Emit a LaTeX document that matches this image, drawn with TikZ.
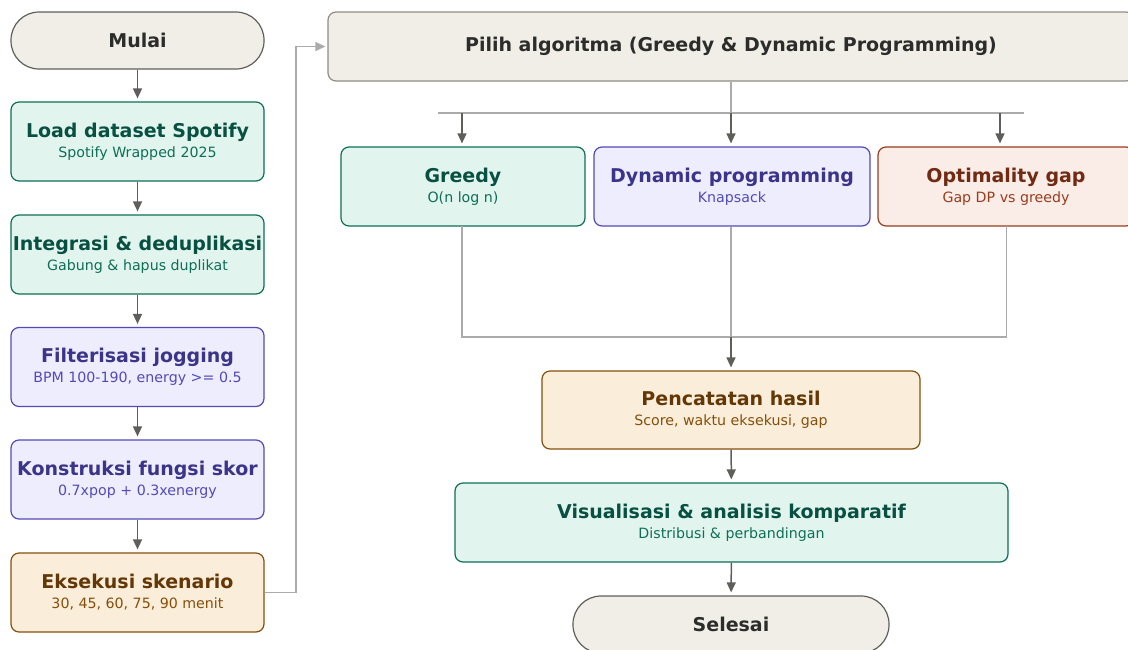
\documentclass[tikz,border=0pt]{standalone}
\usepackage{fontspec}
\setmainfont{DejaVu Sans}
\usetikzlibrary{arrows.meta}
\definecolor{nfill}{HTML}{F1EEE7}
\definecolor{ndraw}{HTML}{5F5E5A}
\definecolor{ndraw2}{HTML}{8F8D86}
\definecolor{ntext}{HTML}{2C2C2A}
\definecolor{gfill}{HTML}{E1F5EE}
\definecolor{gdraw}{HTML}{0F6E56}
\definecolor{gtext}{HTML}{085041}
\definecolor{pfill}{HTML}{EEEDFE}
\definecolor{pdraw}{HTML}{534AB7}
\definecolor{ptext}{HTML}{3C3489}
\definecolor{afill}{HTML}{FAEEDA}
\definecolor{adraw}{HTML}{854F0B}
\definecolor{atext}{HTML}{633806}
\definecolor{cfill}{HTML}{FAECE7}
\definecolor{cdraw}{HTML}{993C1D}
\definecolor{ctext}{HTML}{712B13}
\definecolor{arr}{HTML}{5F5E5A}
\definecolor{lgray}{HTML}{ABABAB}
\newcommand\twoline[3]{{\bfseries\fontsize{19}{20}\selectfont #1}\\{\color{#2}\fontsize{14.2}{20}\selectfont #3}}
\tikzset{
  box/.style={draw, rounded corners=8pt, line width=1.2pt, align=center, inner sep=0pt,
    font=\fontsize{14.2}{20}\selectfont},
  green/.style={box, fill=gfill, draw=gdraw, text=gtext},
  purple/.style={box, fill=pfill, draw=pdraw, text=ptext},
  amber/.style={box, fill=afill, draw=adraw, text=atext},
  coral/.style={box, fill=cfill, draw=cdraw, text=ctext},
  neutral/.style={box, fill=nfill, draw=ndraw, text=ntext, font=\bfseries\fontsize{19}{20}\selectfont},
  term/.style={neutral, rounded corners=28pt},
  flow/.style={draw=arr, line width=1.5pt, -{Triangle[length=10pt,width=9pt]}, shorten >=3pt},
  link/.style={draw=lgray, line width=1.5pt},
  linkarr/.style={link, -{Triangle[length=10pt,width=9pt]}, shorten >=2pt}
}
\begin{document}
\begin{tikzpicture}[x=1pt,y=-1pt]
\useasboundingbox (0,0) rectangle (1128,649);
% left column
\node[term, minimum width=253pt, minimum height=57pt] (mulai) at (137.5,40.5) {Mulai};
\node[green, minimum width=253pt, minimum height=79pt] (load) at (137.5,141.5) {\twoline{Load dataset Spotify}{gdraw}{Spotify Wrapped 2025}};
\node[green, minimum width=253pt, minimum height=79pt] (integ) at (137.5,254.5) {\twoline{Integrasi \& deduplikasi}{gdraw}{Gabung \& hapus duplikat}};
\node[purple, minimum width=253pt, minimum height=79pt] (filt) at (137.5,367) {\twoline{Filterisasi jogging}{pdraw}{BPM 100-190, energy >= 0.5}};
\node[purple, minimum width=253pt, minimum height=79pt] (kons) at (137.5,479.5) {\twoline{Konstruksi fungsi skor}{pdraw}{0.7xpop + 0.3xenergy}};
\node[amber, minimum width=253pt, minimum height=79pt] (eks) at (137.5,592.5) {\twoline{Eksekusi skenario}{adraw}{30, 45, 60, 75, 90 menit}};
% right part
\node[neutral, draw=ndraw2, minimum width=806pt, minimum height=69pt] (pilih) at (731,46.5) {Pilih algoritma (Greedy \& Dynamic Programming)};
\node[green, minimum width=244pt, minimum height=79pt] (greedy) at (463,186.5) {\twoline{Greedy}{gdraw}{O(n log n)}};
\node[purple, minimum width=276pt, minimum height=79pt] (dp) at (732,186.5) {\twoline{Dynamic programming}{pdraw}{Knapsack}};
\node[coral, minimum width=256pt, minimum height=79pt] (opt) at (1006,186.5) {\twoline{Optimality gap}{cdraw}{Gap DP vs greedy}};
\node[amber, minimum width=378pt, minimum height=78pt] (penc) at (731,410) {\twoline{Pencatatan hasil}{adraw}{Score, waktu eksekusi, gap}};
\node[green, minimum width=553pt, minimum height=79pt] (vis) at (731.5,522.5) {\twoline{Visualisasi \& analisis komparatif}{gdraw}{Distribusi \& perbandingan}};
\node[term, minimum width=316pt, minimum height=57pt] (selesai) at (731,624.5) {Selesai};
% left arrows
\draw[flow] (mulai) -- (load);
\draw[flow] (load) -- (integ);
\draw[flow] (integ) -- (filt);
\draw[flow] (filt) -- (kons);
\draw[flow] (kons) -- (eks);
% loop to pilih
\coordinate (r1) at (296,46.5);
\draw[linkarr] (eks.east) -| (r1) -- (pilih.west);
% split
\coordinate (hl) at (438,113);
\coordinate (hr) at (1024,113);
\coordinate (hm) at (731,113);
\coordinate (t1) at (462,113);
\coordinate (t3) at (1000,113);
\draw[link] (pilih.south -| hm) -- (hm);
\draw[link] (hl) -- (hr);
\draw[flow] (t1) -- (t1 |- greedy.north);
\draw[flow] (hm) -- (hm |- dp.north);
\draw[flow] (t3) -- (t3 |- opt.north);
% merge
\coordinate (m) at (731,337);
\coordinate (b1) at (462,226);
\coordinate (b3) at (1006.5,226);
\draw[link] (b1) |- (m) -| (b3);
\draw[link] (hm |- dp.south) -- (m);
\draw[flow] (m) -- (m |- penc.north);
\draw[flow] (penc) -- (vis);
\draw[flow] (vis) -- (selesai);
\end{tikzpicture}
\end{document}
